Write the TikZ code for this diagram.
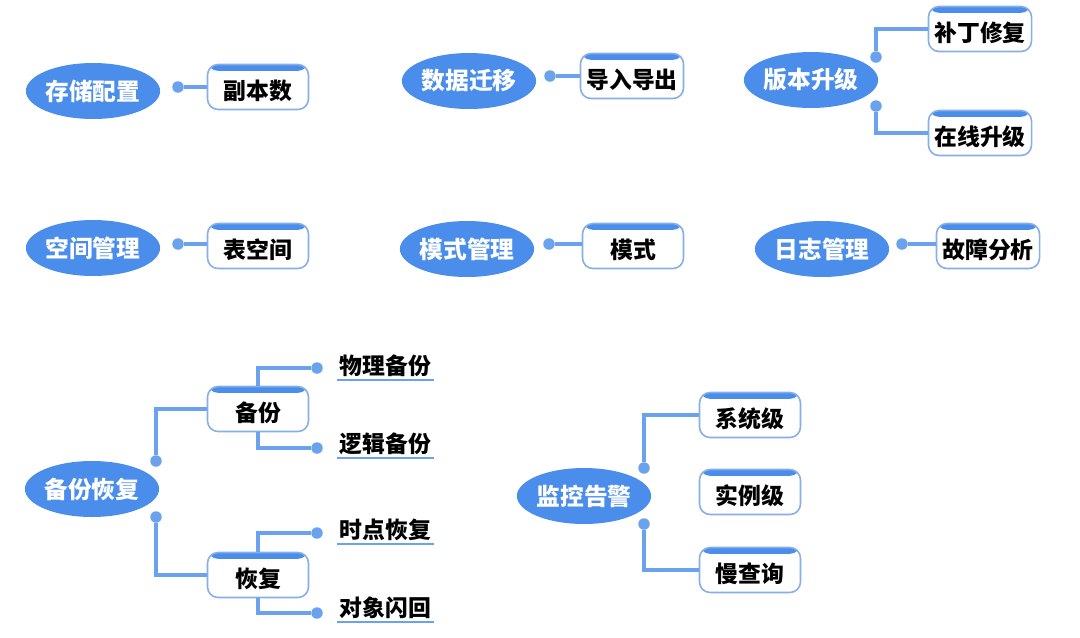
\documentclass[tikz,border=0pt]{standalone}
\usepackage{fontspec}
\setmainfont{Noto Sans CJK SC}
\usetikzlibrary{positioning, shapes.geometric}

\definecolor{topicblue}{HTML}{4B8DEB}
\definecolor{lineblue}{HTML}{6BA2EE}
\definecolor{frameblue}{HTML}{86AEE8}

\tikzset{
    topic/.style={ellipse, fill=topicblue, text=white, inner sep=0pt,
        minimum width=2.66cm, minimum height=1.12cm,
        font=\fontsize{13.5}{15}\selectfont\bfseries},
    sub/.style={rectangle, rounded corners=6pt, draw=frameblue, line width=0.9pt,
        fill=white, minimum width=2.02cm, minimum height=0.9cm,
        text height=14.5pt, text depth=0.3pt,
        font=\fontsize{13}{15}\selectfont\bfseries,
        path picture={\fill[topicblue] (path picture bounding box.north west)
            rectangle ([yshift=-3.6pt]path picture bounding box.north east);}},
    leaf/.style={anchor=west, inner sep=1.5pt, font=\fontsize{13}{15}\selectfont\bfseries},
    dot/.style={circle, fill=lineblue, minimum size=0.23cm, inner sep=0pt},
    link/.style={draw=lineblue, line width=2pt},
}

\begin{document}
\begin{tikzpicture}[x=0.02cm, y=-0.02cm]
        \useasboundingbox (0,0) rectangle (1080,637);
        % row 1
        \node[topic] (t1) at (93,91)  {存储配置};
        \node[topic] (t2) at (469,81) {数据迁移};
        \node[topic] (t3) at (811,80) {版本升级};
        \node[sub] (s1) at (258,87)  {副本数};
        \node[sub] (s2) at (632,76)  {导入导出};
        \node[sub] (s3) at (980,29)  {补丁修复};
        \node[sub] (s4) at (980,133) {在线升级};
        \node[dot] (d1) at (178,87)  {};
        \node[dot] (d2) at (550,76)  {};
        \node[dot] (d3) at (876,57)  {};
        \node[dot] (d4) at (876,106) {};
        \draw[link] (d1) -- (s1);
        \draw[link] (d2) -- (s2);
        \draw[link] (d3) |- (s3.west);
        \draw[link] (d4) |- (s4.west);
        % row 2
        \node[topic] (t4) at (93,248)  {空间管理};
        \node[topic] (t5) at (467,249) {模式管理};
        \node[topic] (t6) at (822,249) {日志管理};
        \node[sub] (s5) at (258,246) {表空间};
        \node[sub] (s6) at (633,246) {模式};
        \node[sub] (s7) at (988,246) {故障分析};
        \node[dot] (d5) at (178,244) {};
        \node[dot] (d6) at (549,244) {};
        \node[dot] (d7) at (902,244) {};
        \draw[link] (d5) -- (s5.west |- d5);
        \draw[link] (d6) -- (s6.west |- d6);
        \draw[link] (d7) -- (s7.west |- d7);
        % row 3
        \node[topic] (t7) at (92,489)  {备份恢复};
        \node[sub] (s8) at (258,409) {备份};
        \node[sub] (s9) at (258,575) {恢复};
        \node[dot] (d8) at (156,461) {};
        \node[dot] (d9) at (156,517) {};
        \draw[link] (d8) |- (s8.west);
        \draw[link] (d9) |- (s9.west);
        \node[dot] (p1) at (317,368) {};
        \node[dot] (p2) at (317,448) {};
        \node[dot] (p3) at (317,533) {};
        \node[dot] (p4) at (317,613) {};
        \draw[link] (s8.north) |- (p1);
        \draw[link] (s8.south) |- (p2);
        \draw[link] (s9.north) |- (p3);
        \draw[link] (s9.south) |- (p4);
        \node[leaf] (l1) at (337,366) {物理备份};
        \node[leaf] (l2) at (337,444) {逻辑备份};
        \node[leaf] (l3) at (337,530) {时点恢复};
        \node[leaf] (l4) at (337,608) {对象闪回};
        \foreach \l in {l1,l2,l3,l4}
            \draw[lineblue, line width=1.4pt] (\l.south west) -- (\l.south east);
        \node[topic] (t8) at (584,496) {监控告警};
        \node[sub] (s10) at (750,415) {系统级};
        \node[sub] (s11) at (750,492) {实例级};
        \node[sub] (s12) at (750,570) {慢查询};
        \node[dot] (d10) at (644,468) {};
        \node[dot] (d11) at (644,524) {};
        \draw[link] (d10) |- (s10.west);
        \draw[link] (d11) |- (s12.west);
    \end{tikzpicture}
\end{document}
